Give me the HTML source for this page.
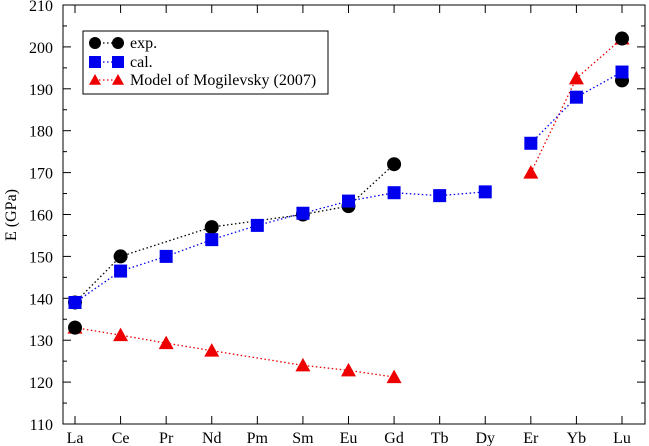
<!DOCTYPE html>
<html><head><meta charset="utf-8"><style>
body{margin:0;background:#fff;font-family:"Liberation Serif",serif;}
svg{display:block}
text{font-family:"Liberation Serif",serif;font-size:16px;fill:#000}
</style></head><body>
<svg id="chart" width="649" height="446"></svg>
<script>
const categories=["La","Ce","Pr","Nd","Pm","Sm","Eu","Gd","Tb","Dy","Er","Yb","Lu"];
const yTicks=[110,120,130,140,150,160,170,180,190,200,210];
const expCats=["La","Ce","Nd","Sm","Eu","Gd"];
const expVals=[139,150,157,160,162,172];
const expExtraCats=["La","Lu","Lu"];
const expExtraVals=[133,192,202];
const calCats1=["La","Ce","Pr","Nd","Pm","Sm","Eu","Gd","Tb","Dy"];
const calVals1=[139,146.5,150,154,157.4,160.3,163.2,165.2,164.5,165.4];
const calCats2=["Er","Yb","Lu"];
const calVals2=[177,188,194];
const modCats1=["La","Ce","Pr","Nd","Sm","Eu","Gd"];
const modVals1=[133,131.2,129.3,127.5,124,122.8,121.2];
const modCats2=["Er","Yb","Lu"];
const modVals2=[170,192.5,202];

const L=63,R=645,T=5,B=424;
const svg=document.getElementById('chart');
const NS="http://www.w3.org/2000/svg";
function x(c){return 75+categories.indexOf(c)*(622-75)/12;}
function y(v){return B-(v-110)*(B-T)/100;}
function mk(tag,a,parent){const e=document.createElementNS(NS,tag);for(const k in a)e.setAttribute(k,a[k]);(parent||svg).appendChild(e);return e;}

const frame=mk('rect',{x:L,y:T,width:R-L,height:B-T,fill:'none',stroke:'#000','stroke-width':1});


for(let v=110;v<=210;v+=5){
  const len=(v%10===0)?8:4;
  const t1=mk('line',{x1:L,x2:L+len,y1:y(v),y2:y(v),stroke:'#000'});
  
  
  const t2=mk('line',{x1:R,x2:R-len,y1:y(v),y2:y(v),stroke:'#000'});
  
  
}
yTicks.forEach(v=>{
  const t=mk('text',{x:L-10,y:y(v)+6,'text-anchor':'end'});t.textContent=v;
  
  
});
categories.forEach(c=>{
  const a=mk('line',{x1:x(c),x2:x(c),y1:B,y2:B-8,stroke:'#000'});
  
  
  const b=mk('line',{x1:x(c),x2:x(c),y1:T,y2:T+8,stroke:'#000'});
  
  
  const t=mk('text',{x:x(c),y:443,'text-anchor':'middle'});t.textContent=c;
  
  
});
const yt=mk('text',{x:0,y:0,transform:'translate(16,215) rotate(-90)','text-anchor':'middle'});yt.textContent='E (GPa)';



function line(cats,vals,color,name){
  const p=mk('polyline',{points:cats.map((c,i)=>x(c)+','+y(vals[i])).join(' '),fill:'none',stroke:color,'stroke-width':1.3,'stroke-dasharray':'1.5,2.5'});
  
  
}
function circ(cx,cy,name,r){const e=mk('circle',{cx:cx,cy:cy,r:r||7,fill:'#000'});}
function sq(cx,cy,name,r){r=r||6.5;const e=mk('rect',{x:cx-r,y:cy-r,width:2*r,height:2*r,fill:'#0000ee'});}
function tri(cx,cy,name,r){r=r||7.5;const e=mk('polygon',{points:`${cx},${cy-r} ${cx-r},${cy+r*0.8} ${cx+r},${cy+r*0.8}`,fill:'#ee0000'});}

line(expCats,expVals,'#000','exp-line');
line(modCats1,modVals1,'#ee0000','model-line-1');
line(modCats2,modVals2,'#ee0000','model-line-2');
line(calCats1,calVals1,'#0000ee','cal-line-1');
line(calCats2,calVals2,'#0000ee','cal-line-2');
modCats1.forEach((c,i)=>tri(x(c),y(modVals1[i]),'model-point'));
modCats2.forEach((c,i)=>tri(x(c),y(modVals2[i]),'model-point'));
expCats.forEach((c,i)=>circ(x(c),y(expVals[i]),'exp-point'));
expExtraCats.forEach((c,i)=>circ(x(c),y(expExtraVals[i]),'exp-point'));
calCats1.forEach((c,i)=>sq(x(c),y(calVals1[i]),'cal-point'));
calCats2.forEach((c,i)=>sq(x(c),y(calVals2[i]),'cal-point'));

const lg=mk('g',{});
mk('rect',{x:83,y:31,width:245,height:63,fill:'#fff',stroke:'#000'},lg);
[['exp.',circ,'#000',43],['cal.',sq,'#0000ee',62],['Model of Mogilevsky (2007)',tri,'#ee0000',80]].forEach(([lab,f,col,yy])=>{
  const l=mk('line',{x1:95,x2:118,y1:yy,y2:yy,stroke:col,'stroke-width':1.3,'stroke-dasharray':'1.5,2.5'},lg);
  f(95,yy,'legend-marker',6);f(118,yy,'legend-marker',6);
  const t=mk('text',{x:130,y:yy+5},lg);t.textContent=lab;
  
  
});
</script>
</body></html>
